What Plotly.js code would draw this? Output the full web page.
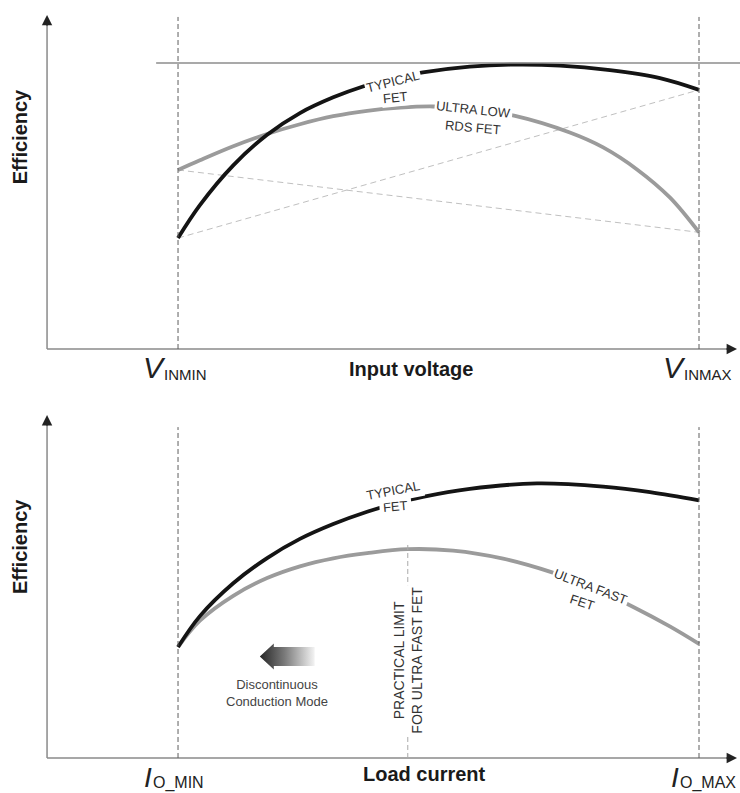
<!DOCTYPE html>
<html>
<head>
<meta charset="utf-8">
<script src="https://cdn.plot.ly/plotly-3.0.1.min.js"></script>
<style>html,body{margin:0;padding:0;background:#fff;}#chart{width:740px;height:793px;}</style>
</head>
<body>
<div id="chart"></div>
<script>
// ---------- DATA (normalised: x 0 = minimum, 1 = maximum; y = efficiency, arbitrary units) ----------
// Top panel: efficiency vs input voltage
const vinX_typical   = [0, 0.042, 0.106, 0.171, 0.234, 0.298, 0.355, 0.413, 0.470, 0.560, 0.637, 0.733, 0.829, 0.925, 1];
const vinY_typical   = [38.8, 50.3, 64.2, 74.9, 82.5, 88.0, 91.8, 94.7, 96.7, 98.7, 99.4, 99.1, 97.5, 94.7, 90.6];
const vinX_ultraLow  = [0, 0.042, 0.106, 0.171, 0.234, 0.298, 0.363, 0.426, 0.489, 0.560, 0.647, 0.752, 0.816, 0.881, 0.944, 1];
const vinY_ultraLow  = [62.6, 66.0, 70.9, 75.2, 78.6, 81.4, 83.3, 84.4, 84.8, 84.0, 81.5, 75.7, 70.5, 62.8, 53.0, 40.8];
const vinPeakLevel   = 100;

// Bottom panel: efficiency vs load current
const ioX_typical    = [0, 0.042, 0.106, 0.171, 0.234, 0.298, 0.363, 0.413, 0.470, 0.560, 0.689, 0.816, 0.906, 1];
const ioY_typical    = [38.8, 49.6, 61.1, 69.9, 76.6, 81.8, 86.1, 88.8, 91.3, 94.1, 96.0, 94.9, 93.0, 90.1];
const ioX_ultraFast  = [0, 0.042, 0.106, 0.171, 0.234, 0.298, 0.363, 0.441, 0.528, 0.624, 0.718, 0.795, 0.873, 0.944, 1];
const ioY_ultraFast  = [38.8, 48.0, 56.7, 62.9, 67.0, 69.8, 71.6, 73.0, 72.5, 69.7, 64.9, 59.6, 52.9, 46.0, 39.9];
const ioPracticalLimitX = 0.441;

// Text
const axisTitleY       = 'Efficiency';
const topAxisTitleX    = 'Input voltage';
const bottomAxisTitleX = 'Load current';
const labelTypical     = ['TYPICAL', 'FET'];
const labelUltraLow    = ['ULTRA LOW', 'RDS FET'];
const labelUltraFast   = ['ULTRA FAST', 'FET'];
const labelLimit       = 'PRACTICAL LIMIT<br>FOR ULTRA FAST FET';
const labelDCM         = 'Discontinuous<br>Conduction Mode';

// ---------- GEOMETRY (axis frames) ----------
const X_RANGE   = [-0.3417, 1.0787];
const Y1_RANGE  = [-16.43, 122.03];
const Y2_RANGE  = [-12.24, 126.57];
const SPLIT     = 0.50063;
const AXIS_X0   = -0.2514, AXIS_XTIP = 1.073;
const Y1_TIP = 116.8, Y2_TIP = 119.9, V1_TOP = 116.1, V2_TOP = 115.7;

const FONT = 'Arial, "Liberation Sans", Helvetica, sans-serif';
const BLACK = '#141414', GREY = '#9b9b9b';
const SPL = {shape:'spline', smoothing:1};

const traces = [
  // top diagonal guide lines
  {x:[0,1], y:[vinY_typical[0], vinY_typical[vinY_typical.length-1]], xaxis:'x', yaxis:'y', mode:'lines',
   line:{color:'#c0c0c0', width:1, dash:'6px,4px'}, hoverinfo:'skip'},
  {x:[0,1], y:[vinY_ultraLow[0], vinY_ultraLow[vinY_ultraLow.length-1]], xaxis:'x', yaxis:'y', mode:'lines',
   line:{color:'#c0c0c0', width:1, dash:'6px,4px'}, hoverinfo:'skip'},
  {x:vinX_ultraLow, y:vinY_ultraLow, xaxis:'x', yaxis:'y', mode:'lines', line:Object.assign({color:GREY, width:3.8}, SPL)},
  {x:vinX_typical, y:vinY_typical, xaxis:'x', yaxis:'y', mode:'lines', line:Object.assign({color:BLACK, width:3.8}, SPL)},
  {x:ioX_ultraFast, y:ioY_ultraFast, xaxis:'x2', yaxis:'y2', mode:'lines', line:Object.assign({color:GREY, width:3.8}, SPL)},
  {x:ioX_typical, y:ioY_typical, xaxis:'x2', yaxis:'y2', mode:'lines', line:Object.assign({color:BLACK, width:3.8}, SPL)}
];

const axColor = '#8a8a8a';
const shapes = [
  // axes top
  {type:'line', xref:'x', yref:'y', x0:AXIS_X0, x1:AXIS_X0, y0:0, y1:Y1_TIP-2, line:{color:axColor, width:1.5}},
  {type:'line', xref:'x', yref:'y', x0:AXIS_X0, x1:AXIS_XTIP-0.01, y0:0, y1:0, line:{color:axColor, width:1.5}},
  // axes bottom
  {type:'line', xref:'x2', yref:'y2', x0:AXIS_X0, x1:AXIS_X0, y0:0, y1:Y2_TIP-2, line:{color:axColor, width:1.5}},
  {type:'line', xref:'x2', yref:'y2', x0:AXIS_X0, x1:AXIS_XTIP-0.01, y0:0, y1:0, line:{color:axColor, width:1.5}},
  // min/max verticals
  {type:'line', xref:'x', yref:'y', x0:0, x1:0, y0:0, y1:V1_TOP, line:{color:'#5e5e5e', width:1, dash:'5px,3px'}},
  {type:'line', xref:'x', yref:'y', x0:1, x1:1, y0:0, y1:V1_TOP, line:{color:'#5e5e5e', width:1, dash:'5px,3px'}},
  {type:'line', xref:'x2', yref:'y2', x0:0, x1:0, y0:0, y1:V2_TOP, line:{color:'#5e5e5e', width:1, dash:'5px,3px'}},
  {type:'line', xref:'x2', yref:'y2', x0:1, x1:1, y0:0, y1:V2_TOP, line:{color:'#5e5e5e', width:1, dash:'5px,3px'}},
  // top reference level
  {type:'line', xref:'x', yref:'y', x0:-0.042, x1:X_RANGE[1], y0:vinPeakLevel, y1:vinPeakLevel, line:{color:'#8c8c8c', width:1.3}},
  // practical limit line
  {type:'line', xref:'x2', yref:'y2', x0:ioPracticalLimitX, x1:ioPracticalLimitX, y0:0,
   y1:Math.max(...ioY_ultraFast)+2, line:{color:'#aaa', width:1, dash:'5px,3px'}}
];

function arrowHead(xref, yref, x, y, ax, ay) {
  return {xref:xref, yref:yref, x:x, y:y, ax:ax, ay:ay, text:'', showarrow:true,
          arrowhead:2, arrowsize:1.3, arrowwidth:1.6, arrowcolor:'#222', standoff:0};
}
function lbl(xref, yref, x, y, text, angle, opts) {
  return Object.assign({xref:xref, yref:yref, x:x, y:y, text:text, textangle:angle, showarrow:false,
    font:{family:FONT, size:13, color:'#333'}, xanchor:'center', yanchor:'middle'}, opts || {});
}
const BG = {bgcolor:'#fff', borderpad:1};
const BG3 = {bgcolor:'#fff', borderpad:3};

const annotations = [
  arrowHead('x','y', AXIS_X0, Y1_TIP, 0, 12),
  arrowHead('x','y', AXIS_XTIP, 0, -12, 0),
  arrowHead('x2','y2', AXIS_X0, Y2_TIP, 0, 12),
  arrowHead('x2','y2', AXIS_XTIP, 0, -12, 0),

  // axis titles
  lbl('x','y', -0.303, 74.1, '<b>'+axisTitleY+'</b>', -90, {font:{family:FONT, size:20, color:'#1a1a1a'}}),
  lbl('x2','y2', -0.303, 73.8, '<b>'+axisTitleY+'</b>', -90, {font:{family:FONT, size:20, color:'#1a1a1a'}}),
  lbl('x','y', 0.447, -7.0, '<b>'+topAxisTitleX+'</b>', 0, {font:{family:FONT, size:20, color:'#1a1a1a'}}),
  lbl('x2','y2', 0.474, -5.6, '<b>'+bottomAxisTitleX+'</b>', 0, {font:{family:FONT, size:20, color:'#1a1a1a'}}),

  // V_INMIN / V_INMAX
  lbl('x','y', -0.020, -6.6, '<i>V</i>', 0, {xanchor:'right', font:{family:FONT, size:30, color:'#222'}}),
  lbl('x','y', -0.031, -8.9, 'INMIN', 0, {xanchor:'left', font:{family:FONT, size:15, color:'#222'}}),
  lbl('x','y', 0.978, -6.6, '<i>V</i>', 0, {xanchor:'right', font:{family:FONT, size:30, color:'#222'}}),
  lbl('x','y', 0.967, -8.9, 'INMAX', 0, {xanchor:'left', font:{family:FONT, size:15, color:'#222'}}),
  // I_O_MIN / I_O_MAX
  lbl('x2','y2', -0.046, -6.8, '<i>I</i>', 0, {xanchor:'right', font:{family:FONT, size:28, color:'#222'}}),
  lbl('x2','y2', -0.052, -8.6, 'O_MIN', 0, {xanchor:'left', font:{family:FONT, size:16, color:'#222'}}),
  lbl('x2','y2', 0.965, -6.8, '<i>I</i>', 0, {xanchor:'right', font:{family:FONT, size:28, color:'#222'}}),
  lbl('x2','y2', 0.959, -8.6, 'O_MAX', 0, {xanchor:'left', font:{family:FONT, size:16, color:'#222'}}),

  // curve labels top
  lbl('x','y', 0.413, 93.4, labelTypical[0], -14, BG),
  lbl('x','y', 0.417, 88.1, labelTypical[1], -6, BG),
  lbl('x','y', 0.568, 83.6, labelUltraLow[0], 6, BG),
  lbl('x','y', 0.566, 77.6, labelUltraLow[1], 5),
  // curve labels bottom
  lbl('x2','y2', 0.417, 87.8, labelTypical[1], -5, BG3),
  lbl('x2','y2', 0.413, 93.7, labelTypical[0], -11, BG3),
  lbl('x2','y2', 0.777, 54.5, labelUltraFast[1], 18, BG),
  lbl('x2','y2', 0.791, 59.8, labelUltraFast[0], 21, BG),
  lbl('x2','y2', ioPracticalLimitX, 34.3, labelLimit, -90, {bgcolor:'#fff', borderpad:1, font:{family:FONT, size:14, color:'#333'}}),
  lbl('x2','y2', 0.190, 22.6, labelDCM, 0, {font:{family:FONT, size:13, color:'#444'}})
];

// gradient arrow (Discontinuous Conduction Mode)
const arrowSvg = "<svg xmlns='http://www.w3.org/2000/svg' width='55' height='27' viewBox='0 0 55 27'>" +
  "<defs><linearGradient id='g' x1='0' x2='1' y1='0' y2='0'><stop offset='0' stop-color='#262626'/>" +
  "<stop offset='0.45' stop-color='#7a7a7a'/><stop offset='1' stop-color='#f4f4f4'/></linearGradient></defs>" +
  "<path d='M0 13.5 L14 0.5 L14 4 L55 4 L55 23 L14 23 L14 26.5 Z' fill='url(#g)'/></svg>";
const images = [{
  source: 'data:image/svg+xml;base64,' + btoa(arrowSvg),
  xref:'x2', yref:'y2', x:0.157, y:40.2, sizex:0.1056, sizey:9.44,
  sizing:'stretch', xanchor:'left', yanchor:'top', layer:'above'
}];

const hidden = {visible:false, autorange:false, fixedrange:true, showgrid:false, zeroline:false};
const layout = {
  width:740, height:793,
  margin:{l:0, r:0, t:0, b:0, pad:0},
  paper_bgcolor:'#fff', plot_bgcolor:'rgba(0,0,0,0)',
  showlegend:false,
  xaxis: Object.assign({}, hidden, {domain:[0,1], range:X_RANGE, anchor:'y'}),
  yaxis: Object.assign({}, hidden, {domain:[SPLIT,1], range:Y1_RANGE, anchor:'x'}),
  xaxis2: Object.assign({}, hidden, {domain:[0,1], range:X_RANGE, anchor:'y2'}),
  yaxis2: Object.assign({}, hidden, {domain:[0,SPLIT], range:Y2_RANGE, anchor:'x2'}),
  shapes: shapes,
  annotations: annotations,
  images: images
};

Plotly.newPlot('chart', traces, layout, {displayModeBar:false, staticPlot:true});
</script>
</body>
</html>
